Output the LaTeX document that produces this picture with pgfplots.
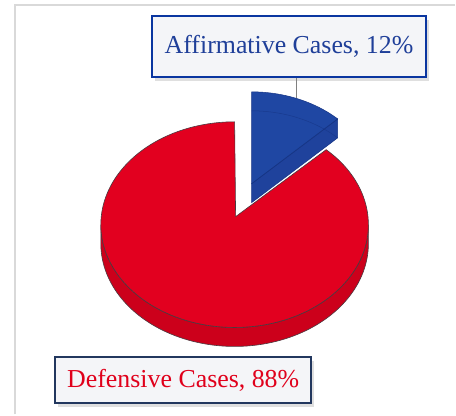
\documentclass[border=0pt]{standalone}
\usepackage{pgfplots}
\pgfplotsset{compat=1.18}
\usepackage{pgfplotstable}
\usepackage{fontspec}
\setmainfont{Liberation Serif}
\usetikzlibrary{shadows}

\pgfplotstableread{
label value
Affirmative 12
Defensive 88
}\piedata
\pgfplotstablegetelem{0}{value}\of\piedata
\pgfmathsetmacro\va{\pgfplotsretval}
\pgfmathsetmacro\angA{360*\va/100}

\definecolor{redtop}{HTML}{E2001F}
\definecolor{redside}{HTML}{CC001B}
\definecolor{bluetop}{HTML}{1F47A3}
\definecolor{blueside}{HTML}{1F429C}
\definecolor{blueline}{HTML}{163585}
\definecolor{outline}{HTML}{4A3A40}
\definecolor{labelblue}{HTML}{1F3F99}
\definecolor{labelred}{HTML}{E0001B}
\definecolor{boxblue}{HTML}{0A36A0}
\definecolor{boxnavy}{HTML}{22375E}
\definecolor{boxfill}{HTML}{F4F5F8}
\definecolor{framegray}{HTML}{D9D9D9}

\begin{document}
\begin{tikzpicture}
\begin{axis}[width=456bp,height=415bp,scale only axis,
  xmin=0,xmax=456,ymin=0,ymax=415,y dir=reverse,hide axis,clip=false]
\path (axis cs:0,0) rectangle (axis cs:456,415);
\draw[framegray,line width=1.5bp] (axis cs:15,415) -- (axis cs:15,5) -- (axis cs:456,5);

% red side (front rim)
\addplot[fill=redside, draw=outline, line width=0.6bp, domain=90:450, samples=361, variable=\t]
  ({235+134*sin(ifthenelse(\t<=270,\t,540-\t))},
   {225-103*cos(ifthenelse(\t<=270,\t,540-\t))+ifthenelse(\t<=270,0,19)}) -- cycle;
% red top face
\addplot[fill=redtop, draw=outline, line width=0.6bp, domain=\angA:360, samples=200, variable=\t]
  ({235+134*sin(\t)},{225-103*cos(\t)}) -- (axis cs:236,217) -- cycle;

% blue slice: cut face
\addplot[fill=blueside, draw=blueline, line width=0.5bp]
  coordinates {(252,184) (338.2,119.1) (338.2,138.1) (252,203)} -- cycle;
% blue top face
\addplot[fill=bluetop, draw=blueline, line width=0.5bp, domain=0:\angA, samples=60, variable=\t]
  ({252+126*sin(\t)},{192-100*cos(\t)}) -- (axis cs:252,184) -- cycle;
% hidden back arc seen through
\addplot[draw=blueline, line width=0.5bp, opacity=0.7, domain=0:\angA, samples=40, variable=\t]
  ({252+126*sin(\t)},{211-100*cos(\t)});
\addplot[draw=blueline, line width=0.5bp, opacity=0.7]
  coordinates {(252,184) (338.2,119.1)};

% leader line
\draw[gray, line width=0.8bp] (axis cs:297,77) -- (axis cs:297,98);

\node[draw=boxblue, line width=2bp, fill=boxfill, minimum width=275bp, minimum height=61bp,
  inner sep=0pt, drop shadow={shadow xshift=3bp,shadow yshift=-4bp,opacity=0.25},
  text=labelblue, font=\fontsize{26}{30}\selectfont] at (axis cs:289.5,46.5) {Affirmative Cases, 12\%};
\node[draw=boxnavy, line width=2bp, fill=boxfill, minimum width=257bp, minimum height=46bp,
  inner sep=0pt, drop shadow={shadow xshift=3bp,shadow yshift=-4bp,opacity=0.25},
  text=labelred, font=\fontsize{26}{30}\selectfont] at (axis cs:183.5,381) {Defensive Cases, 88\%};
\end{axis}
\end{tikzpicture}
\end{document}
